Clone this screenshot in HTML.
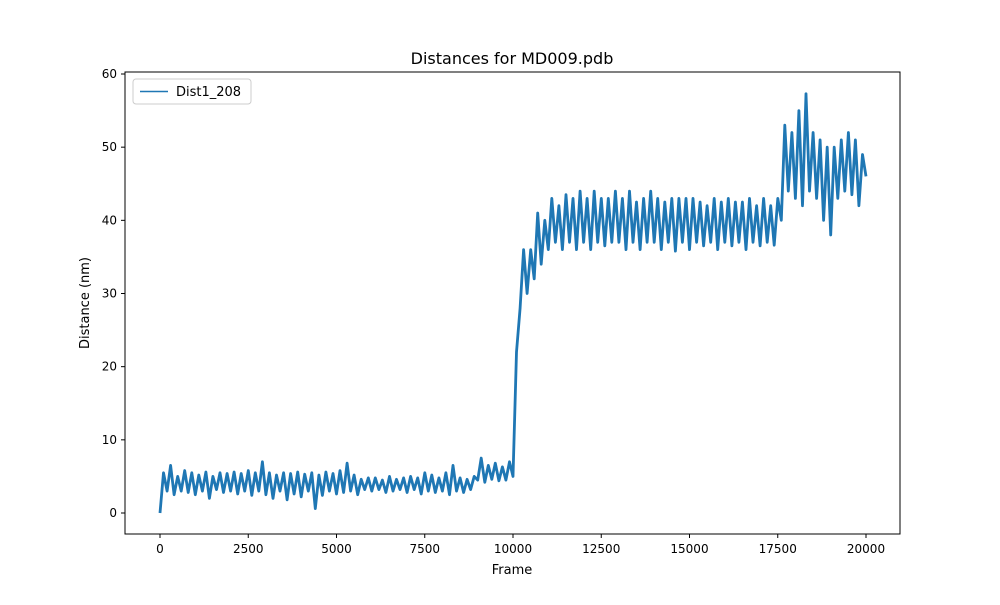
<!DOCTYPE html>
<html><head><meta charset="utf-8"><style>
body{margin:0;background:#fff;font-family:"Liberation Sans","DejaVu Sans",sans-serif}
svg text{font-family:"DejaVu Sans","Liberation Sans",sans-serif}
</style></head><body>
<svg id="chart" width="1000" height="600">
<rect width="1000" height="600" fill="#fff"/>
<text x="512" y="64" text-anchor="middle" font-size="16">Distances for MD009.pdb</text>
<g id="plot"></g>
<rect x="125" y="72" width="775" height="462" fill="none" stroke="#000" stroke-width="1"/>
<text x="512" y="574" text-anchor="middle" font-size="13">Frame</text>
<text transform="translate(89,303) rotate(-90)" text-anchor="middle" font-size="13">Distance (nm)</text>
<g>
<rect x="133" y="79" width="118" height="25" rx="3" fill="#fff" stroke="#ccc"/>
<line x1="140" y1="91.5" x2="168" y2="91.5" stroke="#1f77b4" stroke-width="1.5"/>
<text x="176" y="96" font-size="13">Dist1_208</text>
</g>
</svg>
<script>
const xTicks=[0,2500,5000,7500,10000,12500,15000,17500,20000];
const yTicks=[0,10,20,30,40,50,60];
const frameStep=100;
const distances=[
0,5.5,3,6.5,2.5,5,3,5.8,2.8,5.5,
2.5,5.2,3,5.6,2,5,3.2,5.5,2.8,5.4,
3,5.6,2.6,5.4,3,5.8,2.4,5.5,3,7,
2.5,5.5,2,5.2,3,5.5,1.8,5.4,2.6,5.6,
2.2,5.3,3,5.5,0.6,5.2,2.4,5.6,3,5.4,
2.6,5.8,2.8,6.8,3,5.2,2.5,4.6,3.2,4.8,
3,4.8,3.2,4.5,2.8,5,3,4.6,3.2,4.8,
2.8,5,3.2,4.8,2.6,5.5,3,5.2,2.8,4.8,
3,5.5,2.5,6.5,3,4.8,2.8,4.6,3.2,5,
4.5,7.5,4.2,6.5,4.6,6.8,4.4,6.3,4.5,7,
5,22,28,36,30,36,32,41,34,40,
36,43,37,42,36,43.5,37,43,36,44,
37,43,36,44,37,43,36.5,43,37,44,
37,43,36,44,37,42.5,36,43,37,44,
37,43,36,42.5,37,43,35.8,43,37,43,
36,43,37,42.5,36.5,42,37,43,36,42.5,
37,43,36.5,42.5,37,42.5,36,43,37,42,
36.5,43,37,42,36.6,43,40,53,44,52,
43,55,42,57.3,44,52,43,51,40,50,
38,50,43,51,44,52,43.5,51,42,49,
46];
const NS="http://www.w3.org/2000/svg";
const xs=v=>160+(v/20000)*706;
const ys=v=>513-(v/60)*439;
const g=document.getElementById('plot');
function mk(t,a){const e=document.createElementNS(NS,t);for(const k in a)e.setAttribute(k,a[k]);return e;}
xTicks.forEach(t=>{
 const l=mk('line',{x1:xs(t),x2:xs(t),y1:534,y2:538,stroke:'#000'});
 
 
 g.appendChild(l);
 const tx=mk('text',{x:xs(t),y:553,'text-anchor':'middle','font-size':12});
 
 
 tx.textContent=t;g.appendChild(tx);
});
yTicks.forEach(t=>{
 const l=mk('line',{x1:121,x2:125,y1:ys(t),y2:ys(t),stroke:'#000'});
 
 
 g.appendChild(l);
 const tx=mk('text',{x:117,y:ys(t)+4,'text-anchor':'end','font-size':12});
 
 
 tx.textContent=t;g.appendChild(tx);
});
const pts=distances.map((d,i)=>xs(i*frameStep).toFixed(1)+','+ys(d).toFixed(1)).join(' ');
const pl=mk('polyline',{points:pts,fill:'none',stroke:'#1f77b4','stroke-width':2.8,'stroke-linejoin':'round'});


g.appendChild(pl);
</script>
</body></html>
